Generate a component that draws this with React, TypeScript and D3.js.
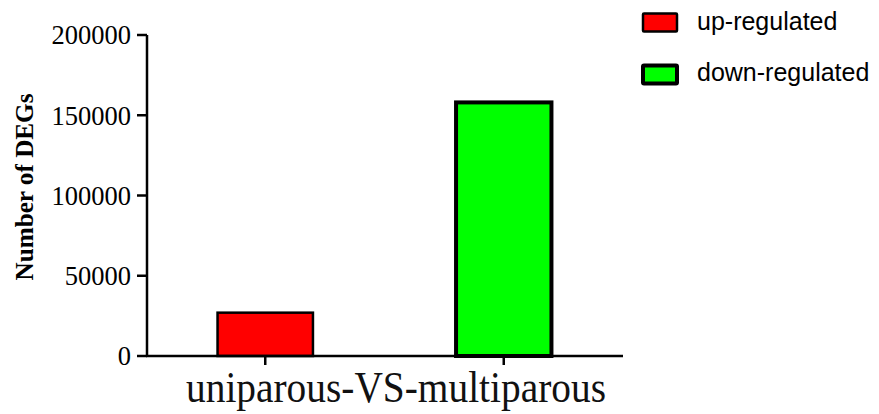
import React from "react";
import * as d3 from "d3";

const categories = ["up-regulated", "down-regulated"];
const values = [27000, 158000];
const colors = ["#ff0000", "#00ff00"];
const yTicks = [0, 50000, 100000, 150000, 200000];
const xLabel = "uniparous-VS-multiparous";
const yLabel = "Number of DEGs";

export default function App() {
  const W = 879, H = 414;
  const x = d3.scaleBand<string>().domain(categories).range([146, 623]).paddingInner(0.6).paddingOuter(0.3);
  const y = d3.scaleLinear().domain([0, 200000]).range([356, 35]);
  const centers = categories.map((c) => (x(c) as number) + x.bandwidth() / 2);
  return (
    <svg width={W} height={H} style={{ position: "absolute", left: 0, top: 0, background: "#fff" }}>
      {categories.map((c, i) => (
        <rect key={c} x={x(c)} y={y(values[i])} width={x.bandwidth()} height={y(0) - y(values[i])}
          fill={colors[i]} stroke="#000" strokeWidth={i === 0 ? 2.5 : 4} />
      ))}
      {/* y axis */}
      <line x1={147} x2={147} y1={y(200000)} y2={y(0)} stroke="#000" strokeWidth={2.5} />
      {yTicks.map((t) => (
        <g key={t}>
          <line x1={137} x2={147} y1={y(t)} y2={y(t)} stroke="#000" strokeWidth={2.5} />
          <text x={131} y={y(t)} dy="0.35em" textAnchor="end" fontFamily="'Liberation Serif', 'Times New Roman', serif" fontSize={26.5} fill="#000">{t}</text>
        </g>
      ))}
      {/* x axis */}
      <line x1={146} x2={623} y1={y(0)} y2={y(0)} stroke="#000" strokeWidth={2.5} />
      {centers.map((cx, i) => (
        <line key={i} x1={cx} x2={cx} y1={y(0)} y2={y(0) + 9} stroke="#000" strokeWidth={2.5} />
      ))}
      <text x={396} y={402} textAnchor="middle" fontFamily="'Liberation Serif', 'Times New Roman', serif" fontSize={44}
        textLength={420} lengthAdjust="spacingAndGlyphs" fill="#111">{xLabel}</text>
      <text transform={`translate(33, 187) rotate(-90)`} textAnchor="middle" fontFamily="'Liberation Serif', 'Times New Roman', serif"
        fontWeight="bold" fontSize={25} textLength={187} lengthAdjust="spacingAndGlyphs" fill="#000">{yLabel}</text>
      {/* legend */}
      {categories.map((c, i) => (
        <g key={c}>
          <rect x={643} y={i === 0 ? 13.5 : 65.5} width={34} height={18} fill={colors[i]} stroke="#000" strokeWidth={i === 0 ? 2.5 : 4} rx={1} />
          <text x={697} y={i === 0 ? 30 : 81} fontFamily="'Liberation Sans', Arial, sans-serif" fontSize={25} fill="#000">{c}</text>
        </g>
      ))}
    </svg>
  );
}
